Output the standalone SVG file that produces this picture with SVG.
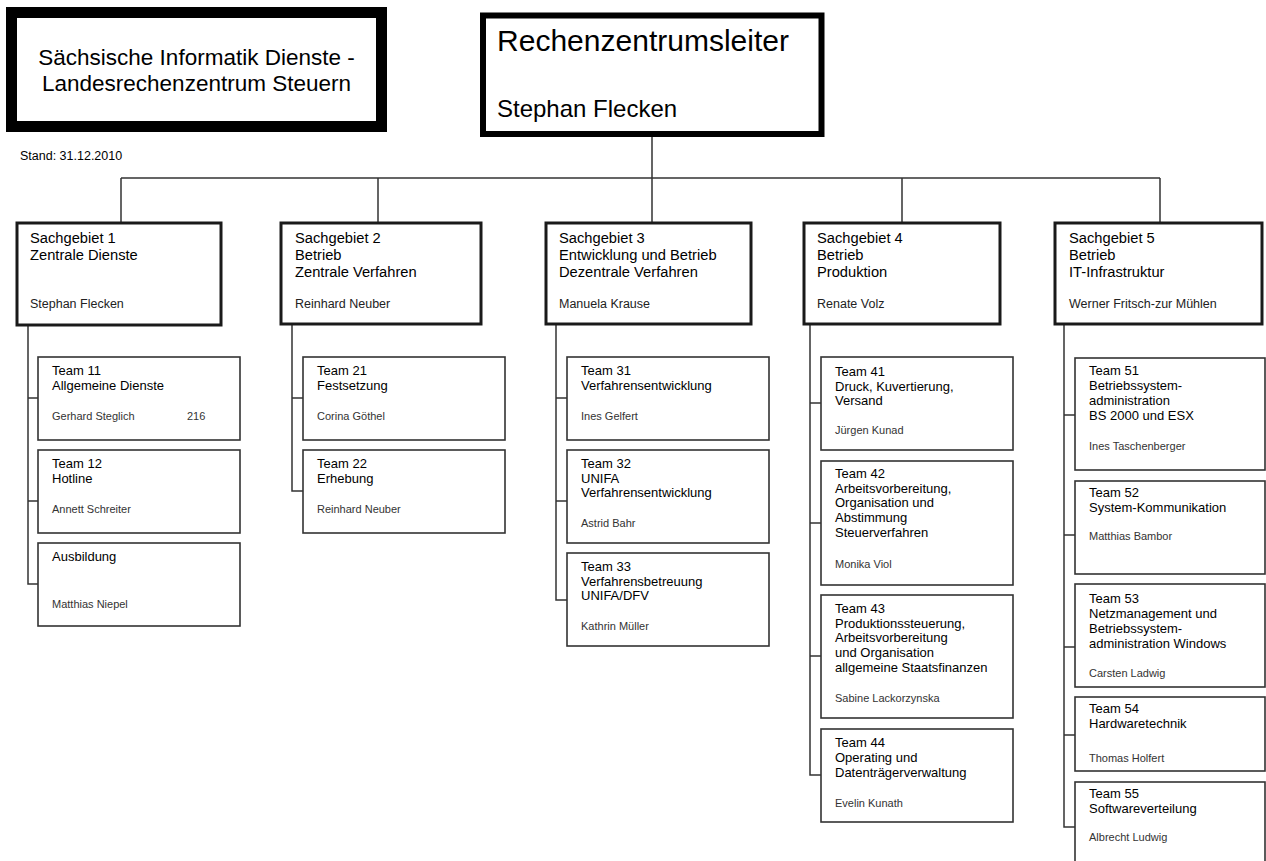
<svg xmlns="http://www.w3.org/2000/svg" width="1266" height="861" viewBox="0 0 1266 861">
<style>
text{font-family:"Liberation Sans",Arial,sans-serif;fill:#000}
.hd rect{fill:#fff;stroke:#000}
.sg rect{fill:#fff;stroke:#1a1a1a;stroke-width:3}
.tm rect{fill:#fff;stroke:#333;stroke-width:1.6}
.sgt{font-size:14.7px}
.sgn{font-size:12.5px;fill:#222}
.ttl{font-size:13px}
.nm{font-size:11px;fill:#333}
.conn path{stroke:#333;stroke-width:1.5;fill:none}
</style>
<rect width="1266" height="861" fill="#fff"/>

<g id="connectors" class="conn">
<path d="M652,137V222M121,178H1160M121,178V222M378,178V222M902,178V222M1160,178V222"/>
<path d="M28,325V584H38M28,398H38M28,501H38"/>
<path d="M292,324V491H303M292,398H303"/>
<path d="M556,324V600H567M556,398H567M556,501H567"/>
<path d="M810,324V775H821M810,403H821M810,523H821M810,656H821"/>
<path d="M1064,324V827H1075M1064,415H1075M1064,535H1075M1064,647H1075M1064,735H1075"/>
</g>

<g id="org" class="hd">
<rect x="11.5" y="12.5" width="370" height="114" stroke-width="11"/>
<text x="196.5" y="65" font-size="22.5" text-anchor="middle">Sächsische Informatik Dienste -</text>
<text x="196.5" y="91" font-size="22.5" text-anchor="middle">Landesrechenzentrum Steuern</text>
</g>

<g id="leiter" class="hd">
<rect x="483" y="15.5" width="338.5" height="118.5" stroke-width="6"/>
<text x="497" y="51" font-size="29.5" textLength="292" lengthAdjust="spacingAndGlyphs">Rechenzentrumsleiter</text>
<text x="497" y="117" font-size="24">Stephan Flecken</text>
</g>

<text id="stand" x="20" y="160" font-size="12.5">Stand: 31.12.2010</text>

<g id="sg1" class="sg">
<rect x="17" y="223" width="204" height="102"/>
<text class="sgt" x="30" y="243">Sachgebiet 1</text>
<text class="sgt" x="30" y="260">Zentrale Dienste</text>
<text class="sgn" x="30" y="308">Stephan Flecken</text>
</g>
<g id="sg2" class="sg">
<rect x="281" y="223" width="200" height="101"/>
<text class="sgt" x="295" y="243">Sachgebiet 2</text>
<text class="sgt" x="295" y="260">Betrieb</text>
<text class="sgt" x="295" y="277">Zentrale Verfahren</text>
<text class="sgn" x="295" y="308">Reinhard Neuber</text>
</g>
<g id="sg3" class="sg">
<rect x="546" y="223" width="205" height="101"/>
<text class="sgt" x="559" y="243">Sachgebiet 3</text>
<text class="sgt" x="559" y="260">Entwicklung und Betrieb</text>
<text class="sgt" x="559" y="277">Dezentrale Verfahren</text>
<text class="sgn" x="559" y="308">Manuela Krause</text>
</g>
<g id="sg4" class="sg">
<rect x="804" y="223" width="196" height="101"/>
<text class="sgt" x="817" y="243">Sachgebiet 4</text>
<text class="sgt" x="817" y="260">Betrieb</text>
<text class="sgt" x="817" y="277">Produktion</text>
<text class="sgn" x="817" y="308">Renate Volz</text>
</g>
<g id="sg5" class="sg">
<rect x="1055" y="223" width="207" height="101"/>
<text class="sgt" x="1069" y="243">Sachgebiet 5</text>
<text class="sgt" x="1069" y="260">Betrieb</text>
<text class="sgt" x="1069" y="277">IT-Infrastruktur</text>
<text class="sgn" x="1069" y="308">Werner Fritsch-zur Mühlen</text>
</g>

<g id="t11" class="tm">
<rect x="38" y="357" width="202" height="83"/>
<text class="ttl" x="52" y="375">Team 11</text>
<text class="ttl" x="52" y="390">Allgemeine Dienste</text>
<text class="nm" x="52" y="420">Gerhard Steglich</text>
<text class="nm" x="187" y="420">216</text>
</g>
<g id="t12" class="tm">
<rect x="38" y="450" width="202" height="83"/>
<text class="ttl" x="52" y="468">Team 12</text>
<text class="ttl" x="52" y="483">Hotline</text>
<text class="nm" x="52" y="513">Annett Schreiter</text>
</g>
<g id="ausb" class="tm">
<rect x="38" y="543" width="202" height="83"/>
<text class="ttl" x="52" y="561">Ausbildung</text>
<text class="nm" x="52" y="608">Matthias Niepel</text>
</g>

<g id="t21" class="tm">
<rect x="303" y="357" width="202" height="83"/>
<text class="ttl" x="317" y="375">Team 21</text>
<text class="ttl" x="317" y="390">Festsetzung</text>
<text class="nm" x="317" y="420">Corina Göthel</text>
</g>
<g id="t22" class="tm">
<rect x="303" y="450" width="202" height="83"/>
<text class="ttl" x="317" y="468">Team 22</text>
<text class="ttl" x="317" y="483">Erhebung</text>
<text class="nm" x="317" y="513">Reinhard Neuber</text>
</g>

<g id="t31" class="tm">
<rect x="567" y="357" width="202" height="83"/>
<text class="ttl" x="581" y="375">Team 31</text>
<text class="ttl" x="581" y="390">Verfahrensentwicklung</text>
<text class="nm" x="581" y="420">Ines Gelfert</text>
</g>
<g id="t32" class="tm">
<rect x="567" y="450" width="202" height="93"/>
<text class="ttl" x="581" y="468">Team 32</text>
<text class="ttl" x="581" y="483">UNIFA</text>
<text class="ttl" x="581" y="497">Verfahrensentwicklung</text>
<text class="nm" x="581" y="527">Astrid Bahr</text>
</g>
<g id="t33" class="tm">
<rect x="567" y="553" width="202" height="93"/>
<text class="ttl" x="581" y="571">Team 33</text>
<text class="ttl" x="581" y="586">Verfahrensbetreuung</text>
<text class="ttl" x="581" y="600">UNIFA/DFV</text>
<text class="nm" x="581" y="630">Kathrin Müller</text>
</g>

<g id="t41" class="tm">
<rect x="821" y="357" width="192" height="93"/>
<text class="ttl" x="835" y="376">Team 41</text>
<text class="ttl" x="835" y="391">Druck, Kuvertierung,</text>
<text class="ttl" x="835" y="405">Versand</text>
<text class="nm" x="835" y="434">Jürgen Kunad</text>
</g>
<g id="t42" class="tm">
<rect x="821" y="461" width="192" height="124"/>
<text class="ttl" x="835" y="478">Team 42</text>
<text class="ttl" x="835" y="493">Arbeitsvorbereitung,</text>
<text class="ttl" x="835" y="507">Organisation und</text>
<text class="ttl" x="835" y="522">Abstimmung</text>
<text class="ttl" x="835" y="537">Steuerverfahren</text>
<text class="nm" x="835" y="568">Monika Viol</text>
</g>
<g id="t43" class="tm">
<rect x="821" y="595" width="192" height="123"/>
<text class="ttl" x="835" y="613">Team 43</text>
<text class="ttl" x="835" y="628">Produktionssteuerung,</text>
<text class="ttl" x="835" y="642">Arbeitsvorbereitung</text>
<text class="ttl" x="835" y="657">und Organisation</text>
<text class="ttl" x="835" y="672">allgemeine Staatsfinanzen</text>
<text class="nm" x="835" y="702">Sabine Lackorzynska</text>
</g>
<g id="t44" class="tm">
<rect x="821" y="729" width="192" height="93"/>
<text class="ttl" x="835" y="747">Team 44</text>
<text class="ttl" x="835" y="762">Operating und</text>
<text class="ttl" x="835" y="777">Datenträgerverwaltung</text>
<text class="nm" x="835" y="807">Evelin Kunath</text>
</g>

<g id="t51" class="tm">
<rect x="1075" y="358" width="190" height="112"/>
<text class="ttl" x="1089" y="375">Team 51</text>
<text class="ttl" x="1089" y="390">Betriebssystem-</text>
<text class="ttl" x="1089" y="405">administration</text>
<text class="ttl" x="1089" y="420">BS 2000 und ESX</text>
<text class="nm" x="1089" y="450">Ines Taschenberger</text>
</g>
<g id="t52" class="tm">
<rect x="1075" y="481" width="190" height="93"/>
<text class="ttl" x="1089" y="497">Team 52</text>
<text class="ttl" x="1089" y="512">System-Kommunikation</text>
<text class="nm" x="1089" y="540">Matthias Bambor</text>
</g>
<g id="t53" class="tm">
<rect x="1075" y="584" width="190" height="103"/>
<text class="ttl" x="1089" y="603">Team 53</text>
<text class="ttl" x="1089" y="618">Netzmanagement und</text>
<text class="ttl" x="1089" y="633">Betriebssystem-</text>
<text class="ttl" x="1089" y="648">administration Windows</text>
<text class="nm" x="1089" y="677">Carsten Ladwig</text>
</g>
<g id="t54" class="tm">
<rect x="1075" y="697" width="190" height="74"/>
<text class="ttl" x="1089" y="713">Team 54</text>
<text class="ttl" x="1089" y="728">Hardwaretechnik</text>
<text class="nm" x="1089" y="762">Thomas Holfert</text>
</g>
<g id="t55" class="tm">
<rect x="1075" y="782" width="190" height="100"/>
<text class="ttl" x="1089" y="798">Team 55</text>
<text class="ttl" x="1089" y="813">Softwareverteilung</text>
<text class="nm" x="1089" y="841">Albrecht Ludwig</text>
</g>
</svg>
